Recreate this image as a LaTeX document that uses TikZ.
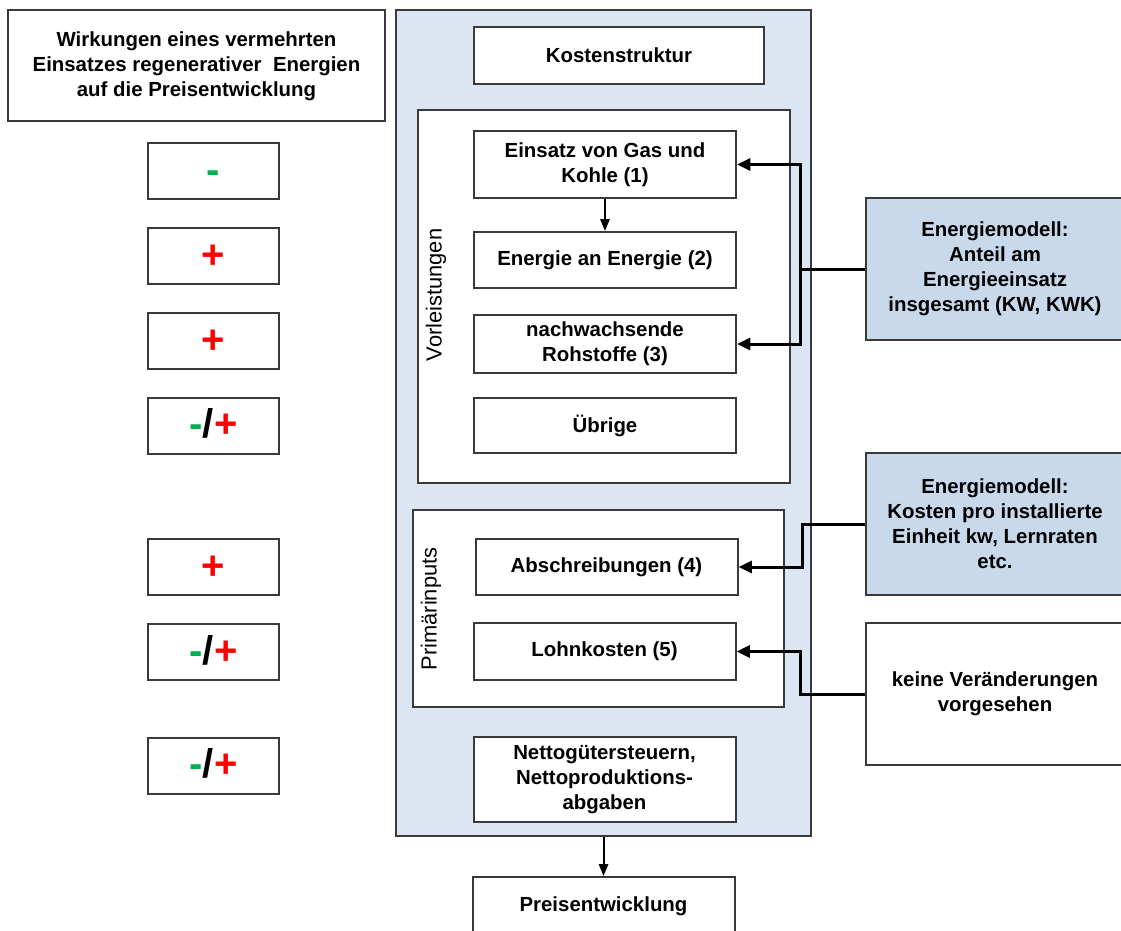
\documentclass[tikz,border=0pt]{standalone}
\usepackage{fontspec}
\setmainfont{Liberation Sans}
\usetikzlibrary{arrows.meta}

\definecolor{rahmen}{HTML}{3A3A3A}
\definecolor{hellblau}{HTML}{DCE6F2}
\definecolor{modellblau}{HTML}{C9D9EC}
\definecolor{plusrot}{HTML}{FF0000}
\definecolor{minusgruen}{HTML}{00B050}
\newcommand{\gminus}{\textcolor{minusgruen}{-}}
\newcommand{\rplus}{\textcolor{plusrot}{+}}

\begin{document}
\begin{tikzpicture}[x=0.75pt, y=-0.75pt,
	box/.style={draw=rahmen, line width=1.5pt, fill=white, align=center, inner sep=2pt,
		font=\fontsize{15.3}{18.8}\selectfont\bfseries},
	signbox/.style={box, minimum width=98.25pt, minimum height=42pt,
		text height=18pt, text depth=0pt, font=\fontsize{30}{30}\selectfont\bfseries},
	innerbox/.style={box, minimum width=196.5pt},
	modell/.style={box, minimum width=193.5pt, minimum height=106.5pt},
	seitentext/.style={rotate=90, font=\fontsize{16.4}{18}\selectfont},
	link/.style={line width=2.25pt, line join=miter, -{Triangle[length=10pt,width=9pt]}},
	flow/.style={line width=1.5pt, -{Triangle[length=9pt,width=7pt]}}]
	\useasboundingbox (0,0) rectangle (1121,931);

	% linke Spalte: Wirkungen
	\node (wirkung) at (196.5,65.5) [box, minimum width=282.75pt, minimum height=83.25pt,
		text depth=2pt]
		{Wirkungen eines vermehrten\\Einsatzes regenerativer\ \ Energien\\auf die Preisentwicklung};
	\node (s1) at (213.5,171) [signbox] {\gminus};
	\node (s2) at (213.5,256) [signbox] {\rplus};
	\node (s3) at (213.5,341) [signbox] {\rplus};
	\node (s4) at (213.5,425.5) [signbox] {\gminus/\rplus};
	\node (s5) at (213.5,567) [signbox] {\rplus};
	\node (s6) at (213.5,652) [signbox] {\gminus/\rplus};
	\node (s7) at (213.5,765.5) [signbox] {\gminus/\rplus};

	% Kostenstruktur
	\node (kosten) at (603.5,423) [box, fill=hellblau, minimum width=311.25pt,
		minimum height=619.5pt] {};
	\node (struktur) at (619,55.5) [box, minimum width=217.5pt, minimum height=42.75pt]
		{Kostenstruktur};

	\node (vorl) at (604,296.5) [box, minimum width=279pt, minimum height=279.75pt] {};
	\node (vorltext) at (436,295) [seitentext] {Vorleistungen};
	\node (einsatz) at (605,164.5) [innerbox, minimum height=50.25pt]
		{Einsatz von Gas und\\Kohle (1)};
	\node (energie) at (605,260) [innerbox, minimum height=42pt]
		{Energie an Energie (2)};
	\node (rohstoffe) at (605,344) [innerbox, minimum height=43.5pt]
		{nachwachsende\\Rohstoffe (3)};
	\node (uebrige) at (605,425.5) [innerbox, minimum height=41.25pt] {Übrige};

	\node (primaer) at (598.5,608.5) [box, minimum width=278.25pt, minimum height=147.75pt] {};
	\node (primtext) at (431,609) [seitentext] {Primärinputs};
	\node (abschr) at (606.5,567) [innerbox, minimum height=42pt] {Abschreibungen (4)};
	\node (lohn) at (604.5,651.5) [innerbox, minimum height=42.75pt] {Lohnkosten (5)};

	\node (netto) at (604.5,779.5) [innerbox, minimum height=63.75pt]
		{Nettogütersteuern,\\Nettoproduktions-\\abgaben};
	\node (preis) at (603.5,906) [innerbox, minimum height=43.5pt] {Preisentwicklung};

	% rechte Spalte: Modelle
	\node (modell1) at (995,269) [modell, fill=modellblau]
		{Energiemodell:\\Anteil am\\Energieeinsatz\\insgesamt (KW, KWK)};
	\node (modell2) at (995,524) [modell, fill=modellblau]
		{Energiemodell:\\Kosten pro installierte\\Einheit kw, Lernraten\\etc.};
	\node (keine) at (995,694) [modell] {keine Veränderungen\\vorgesehen};

	\coordinate (bus1) at (800,269);
	\coordinate (bus2) at (802,524);
	\coordinate (bus3) at (800,694);

	\draw[flow] (einsatz) -- (energie);
	\draw[flow] (kosten) -- (preis);
	\draw[link] (modell1.west) -- (bus1) |- (einsatz.east);
	\draw[link] (bus1) |- (rohstoffe.east);
	\draw[link] (modell2.west) -- (bus2) |- (abschr.east);
	\draw[link] (keine.west) -- (bus3) |- (lohn.east);
\end{tikzpicture}
\end{document}
